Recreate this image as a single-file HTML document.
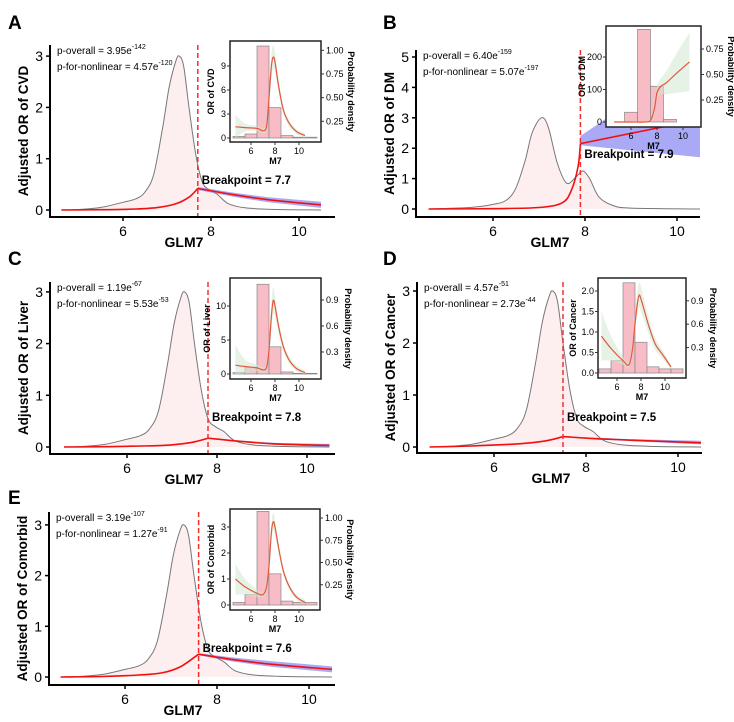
<!DOCTYPE html>
<html><head><meta charset="utf-8"><style>
body{margin:0;background:#fff}
svg{display:block;font-family:"Liberation Sans",Arial,sans-serif}
</style></head><body>
<svg id="fig" width="734" height="722" viewBox="0 0 734 722" xmlns="http://www.w3.org/2000/svg"></svg>
<script>
// ---------- data ----------
const densX = [4.6,5,5.5,6,6.3,6.5,6.7,6.9,7.05,7.2,7.28,7.38,7.5,7.65,7.8,7.95,8.15,8.4,8.8,9.5,10.5];
const densY = [0,0.01,0.05,0.15,0.22,0.35,0.7,1.6,2.4,2.9,3.0,2.8,2.0,1.1,0.55,0.4,0.3,0.12,0.04,0.01,0];
const densBX = [4.6,5.5,6,6.3,6.5,6.7,6.85,7.05,7.2,7.4,7.6,7.8,7.95,8.1,8.3,8.6,9,10.5];
const densBY = [0,0.05,0.15,0.3,0.7,1.6,2.5,3.0,2.7,1.5,0.85,1.05,1.25,1.0,0.4,0.12,0.03,0];

const orAX = [4.6,5.5,6.3,6.8,7.2,7.5,7.7,8.5,9.3,10.5];
const orAY = [0,0.005,0.02,0.05,0.12,0.25,0.42,0.3,0.2,0.1];
const orALo = [0,0.005,0.02,0.05,0.12,0.25,0.39,0.26,0.15,0.04];
const orAHi = [0,0.005,0.02,0.05,0.12,0.25,0.45,0.34,0.25,0.16];

const orBX = [4.6,6,7,7.5,7.7,7.85,7.9,10.5];
const orBY = [0,0.01,0.05,0.2,0.6,1.4,2.15,2.95];
const orBLo = [0,0.01,0.05,0.2,0.6,1.4,2.1,1.7];
const orBHi = [0,0.01,0.05,0.2,0.6,1.4,2.4,5.06];

const orCX = [4.6,5.5,6.3,6.8,7.2,7.5,7.8,8.5,9.3,10.5];
const orCY = [0,0.005,0.02,0.03,0.06,0.1,0.17,0.11,0.06,0.03];
const orCLo = [0,0.005,0.02,0.03,0.06,0.1,0.16,0.1,0.04,0.0];
const orCHi = [0,0.005,0.02,0.03,0.06,0.1,0.18,0.125,0.08,0.06];

const orDX = [4.6,5.5,6.3,6.8,7.2,7.5,8.2,9,10.5];
const orDY = [0,0.02,0.05,0.08,0.13,0.2,0.16,0.13,0.08];
const orDLo = [0,0.02,0.05,0.08,0.13,0.19,0.15,0.11,0.05];
const orDHi = [0,0.02,0.05,0.08,0.13,0.21,0.18,0.15,0.12];

const orEX = [4.6,5.5,6.3,6.8,7.2,7.6,8.3,9.2,10.5];
const orEY = [0,0.01,0.04,0.08,0.2,0.45,0.35,0.25,0.15];
const orELo = [0,0.01,0.04,0.08,0.2,0.43,0.31,0.2,0.09];
const orEHi = [0,0.01,0.04,0.08,0.2,0.47,0.39,0.31,0.21];

const breakpoints = [7.7,7.9,7.8,7.5,7.6];
const pOverall = [["3.95","-142"],["6.40","-159"],["1.19","-67"],["4.57","-51"],["3.19","-107"]];
const pNonlin = [["4.57","-120"],["5.07","-197"],["5.53","-53"],["2.73","-44"],["1.27","-91"]];
const outcomes = ["CVD","DM","Liver","Cancer","Comorbid"];

const histCounts = {
  A:[0.2,0.5,11.5,3.8,0.3,0.1,0.1],
  B:[0,30,285,110,8,0,0],
  C:[0.2,1.0,13.2,4.0,0.3,0.1,0.1],
  D:[0.1,0.3,2.2,0.75,0.15,0.1,0.1],
  E:[0.1,0.4,3.6,1.2,0.15,0.1,0.1]
};
const inX = [4.7,5.5,6.5,7.0,7.3,7.5,7.7,7.85,8,8.3,8.7,9.2,9.8,10.5];
const inAY = [1.4,1.3,1.2,0.9,1.5,5,9,10.1,9.5,6.5,3.5,1.8,0.8,0.3];
const inAW = [1.5,0.5,0.3,0.3,0.5,1,1.5,1.5,1.2,0.8,0.5,0.4,0.3,0.3];
const inCY = [1.3,1.1,0.9,0.6,1.0,3.5,8.5,10.8,10,7,4,2,0.8,0.2];
const inCW = [3,1,0.5,0.4,0.6,1.5,2,2,1.5,1,0.7,0.5,0.4,0.3];
const inDY = [0.9,0.6,0.3,0.2,0.6,1.2,1.7,1.9,1.8,1.5,1.1,0.7,0.45,0.15];
const inDW = [0.6,0.3,0.1,0.08,0.15,0.25,0.3,0.3,0.3,0.25,0.2,0.15,0.1,0.05];
const inEY = [1.0,0.7,0.45,0.4,0.7,1.5,2.8,3.2,3.0,2.2,1.3,0.7,0.3,0.1];
const inEW = [0.6,0.3,0.15,0.1,0.15,0.3,0.35,0.35,0.3,0.2,0.15,0.1,0.1,0.1];
const inBX = [4.7,6,7,7.5,7.8,8,8.3,8.7,9.5,10.5];
const inBY = [0,0,0,5,40,90,110,120,150,185];
const inBW = [2,2,2,5,15,20,25,35,60,90];

// ---------- helpers ----------
const NS="http://www.w3.org/2000/svg";
const svg=document.getElementById('fig');
function el(tag,attrs,parent,text){const e=document.createElementNS(NS,tag);for(const k in attrs)e.setAttribute(k,attrs[k]);if(text!==undefined)e.textContent=text;(parent||svg).appendChild(e);return e;}
function smooth(pts){
  if(pts.length<2)return '';
  let d='M'+pts[0][0].toFixed(1)+','+pts[0][1].toFixed(1);
  for(let i=0;i<pts.length-1;i++){
    const p0=pts[i-1]||pts[i],p1=pts[i],p2=pts[i+1],p3=pts[i+2]||p2;
    const c1=[p1[0]+(p2[0]-p0[0])/6,p1[1]+(p2[1]-p0[1])/6];
    const c2=[p2[0]-(p3[0]-p1[0])/6,p2[1]-(p3[1]-p1[1])/6];
    d+='C'+c1[0].toFixed(1)+','+c1[1].toFixed(1)+' '+c2[0].toFixed(1)+','+c2[1].toFixed(1)+' '+p2[0].toFixed(1)+','+p2[1].toFixed(1);
  }
  return d;
}
function lin(pts){return 'M'+pts.map(p=>p[0].toFixed(1)+','+p[1].toFixed(1)).join('L');}

function panel(c){
  const g=el('g',{},svg);
  
  
  const X=v=>c.x6+(v-6)*c.ux, Y=v=>c.y0-v*c.uy;
  const lab=el('text',{x:c.labX,y:c.labY,'font-size':19,'font-weight':'bold'},g,c.letter);
  
  
  const dp=c.dx.map((x,i)=>[X(x),Y(c.dy[i])]);
  const fill=el('path',{d:smooth(dp)+'L'+X(c.dx[c.dx.length-1])+','+Y(0)+'L'+X(c.dx[0])+','+Y(0)+'Z',fill:'#fdeef0',stroke:'none'},g);
  
  
  const dl=el('path',{d:smooth(dp),fill:'none',stroke:'#777','stroke-width':1},g);
  
  
  const idx=c.ox.map((x,i)=>i).filter(i=>c.ox[i]>=c.bp-0.001);
  const up=idx.map(i=>[X(c.ox[i]),Y(c.ohi[i])]), lo=idx.map(i=>[X(c.ox[i]),Y(c.olo[i])]).reverse();
  const band=el('path',{d:lin(up)+'L'+lo.map(p=>p[0].toFixed(1)+','+p[1].toFixed(1)).join('L')+'Z',fill:'#8c8cf2','fill-opacity':0.75},g);
  
  
  const pre=c.ox.map((x,i)=>i).filter(i=>c.ox[i]<=c.bp+0.001).map(i=>[X(c.ox[i]),Y(c.oy[i])]);
  const post=idx.map(i=>[X(c.ox[i]),Y(c.oy[i])]);
  const orl=el('path',{d:smooth(pre)+' '+smooth(post),fill:'none',stroke:'#f01010','stroke-width':1.6},g);
  
  
  const bl=el('line',{x1:X(c.bp),x2:X(c.bp),y1:c.top,y2:c.axY,stroke:'#f03030','stroke-width':1.5,'stroke-dasharray':'5,3'},g);
  
  
  const bt=el('text',{x:X(c.bp)+4,y:c.bpY,'font-size':11.5,'font-weight':'bold'},g,'Breakpoint = '+c.bp);
  
  
  const ax=el('path',{d:`M${c.axX},${c.top}V${c.axY}H${c.right}`,fill:'none',stroke:'#000','stroke-width':2},g);
  
  
  c.yt.forEach(v=>{
    el('line',{x1:c.axX-4,x2:c.axX,y1:Y(v),y2:Y(v),stroke:'#000','stroke-width':1.5},g);
    const t=el('text',{x:c.axX-7,y:Y(v)+5,'font-size':14,'text-anchor':'end'},g,v);
    
    
  });
  [6,8,10].forEach(v=>{
    el('line',{x1:X(v),x2:X(v),y1:c.axY,y2:c.axY+4,stroke:'#000','stroke-width':1.5},g);
    const t=el('text',{x:X(v),y:c.axY+19,'font-size':14,'text-anchor':'middle'},g,v);
    
    
  });
  const xt=el('text',{x:c.axX+134,y:c.axY+30,'font-size':14,'font-weight':'bold','text-anchor':'middle'},g,'GLM7');
  
  
  const my=(c.top+c.axY)/2;
  const yt=el('text',{x:0,y:0,'font-size':13.5,'font-weight':'bold','text-anchor':'middle',transform:`translate(${c.axX-22},${my}) rotate(-90)`},g,'Adjusted OR of '+c.name);
  
  
  const p1=el('text',{x:c.axX+7,y:c.top+9,'font-size':10},g);
  
  
  el('tspan',{},p1,'p-overall = '+c.po[0]+'e');
  el('tspan',{dy:-5,'font-size':7},p1,c.po[1]);
  const p2=el('text',{x:c.axX+7,y:c.top+25,'font-size':10},g);
  
  
  el('tspan',{},p2,'p-for-nonlinear = '+c.pn[0]+'e');
  el('tspan',{dy:-5,'font-size':7},p2,c.pn[1]);
  inset(c.ins,g,c.name);
}

function inset(s,parent,name){
  const g=el('g',{},parent);
  
  
  const X=v=>s.x6+(v-6)*s.ux, Y=v=>s.y0-v*s.uy;
  const [bx0,by0,bx1,by1]=s.box;
  el('rect',{x:bx0,y:by0,width:bx1-bx0,height:by1-by0,fill:'#fff'},g);
  s.hist.forEach((h,i)=>{
    const x0=X(4.5+i),x1=X(5.5+i);
    const r=el('rect',{x:x0,y:Math.max(Y(h),by0),width:x1-x0,height:Y(0)-Math.max(Y(h),by0),fill:'#f8bcc6',stroke:'#888','stroke-width':0.7},g);
    
    
  });
  const up=s.cx.map((x,i)=>[X(x),Math.max(Y(s.cy[i]+s.cw[i]),by0)]);
  const lo=s.cx.map((x,i)=>[X(x),Math.min(Y(Math.max(s.cy[i]-s.cw[i],0)),by1)]).reverse();
  const b=el('path',{d:smooth(up)+'L'+smooth(lo).slice(1)+'Z',fill:'#cfe8cf','fill-opacity':0.55},g);
  
  
  const cp=s.cx.map((x,i)=>[X(x),Y(s.cy[i])]);
  const cl=el('path',{d:smooth(cp),fill:'none',stroke:'#e2583c','stroke-width':1.2},g);
  
  
  el('rect',{x:bx0,y:by0,width:bx1-bx0,height:by1-by0,fill:'none',stroke:'#222','stroke-width':1.5},g);
  s.lt.forEach(v=>{
    el('line',{x1:bx0-3,x2:bx0,y1:Y(parseFloat(v)),y2:Y(parseFloat(v)),stroke:'#333'},g);
    const t=el('text',{x:bx0-4,y:Y(parseFloat(v))+3,'font-size':9,'text-anchor':'end'},g,v);
    
    
  });
  s.rt.forEach(v=>{
    const y=s.d0-parseFloat(v)*s.du;
    el('line',{x1:bx1,x2:bx1+3,y1:y,y2:y,stroke:'#333'},g);
    const t=el('text',{x:bx1+5,y:y+3,'font-size':9},g,v);
    
    
  });
  [6,8,10].forEach(v=>{
    el('line',{x1:X(v),x2:X(v),y1:by1,y2:by1+3,stroke:'#333'},g);
    const t=el('text',{x:X(v),y:by1+12,'font-size':9,'text-anchor':'middle'},g,v);
    
    
  });
  const m=el('text',{x:(bx0+bx1)/2,y:by1+22,'font-size':9,'font-weight':'bold','text-anchor':'middle'},g,'M7');
  
  
  const ly=el('text',{x:0,y:0,'font-size':9,'font-weight':'bold','text-anchor':'middle',transform:`translate(${bx0-s.lOff},${(by0+by1)/2}) rotate(-90)`},g,'OR of '+name);
  
  
  const ry=el('text',{x:0,y:0,'font-size':9,'font-weight':'bold','text-anchor':'middle',transform:`translate(${bx1+s.rOff},${(by0+by1)/2}) rotate(90)`},g,'Probability density');
  
  
}

panel({letter:'A',name:outcomes[0],labX:8,labY:29,axX:50,axY:217,top:45,right:335,x6:123,ux:44,y0:210,uy:51.3,yt:[0,1,2,3],
  dx:densX,dy:densY,ox:orAX,oy:orAY,olo:orALo,ohi:orAHi,bp:breakpoints[0],bpY:184,po:pOverall[0],pn:pNonlin[0],
  ins:{box:[230,41,321,142],x6:251,ux:12,y0:138,uy:8,hist:histCounts.A,cx:inX,cy:inAY,cw:inAW,lt:['0','3','6','9'],rt:['1.00','0.75','0.50','0.25'],d0:145,du:94.7,lOff:16,rOff:27}});
panel({letter:'B',name:outcomes[1],labX:383,labY:29,axX:416,axY:217,top:50,right:700,x6:493,ux:46,y0:209,uy:30.4,yt:[0,1,2,3,4,5],
  dx:densBX,dy:densBY,ox:orBX,oy:orBY,olo:orBLo,ohi:orBHi,bp:breakpoints[1],bpY:158,po:pOverall[1],pn:pNonlin[1],
  ins:{box:[606,26,701,127],x6:631,ux:13,y0:122,uy:0.325,hist:histCounts.B,cx:inBX,cy:inBY,cw:inBW,lt:['0','100','200'],rt:['0.75','0.50','0.25'],d0:125.5,du:102,lOff:21,rOff:27}});
panel({letter:'C',name:outcomes[2],labX:8,labY:265,axX:50,axY:454,top:282,right:335,x6:127,ux:45,y0:447,uy:51.7,yt:[0,1,2,3],
  dx:densX,dy:densY,ox:orCX,oy:orCY,olo:orCLo,ohi:orCHi,bp:breakpoints[2],bpY:421,po:pOverall[2],pn:pNonlin[2],
  ins:{box:[230,278,321,379],x6:251,ux:12,y0:374,uy:6.8,hist:histCounts.C,cx:inX,cy:inCY,cw:inCW,lt:['0','5','10'],rt:['0.9','0.6','0.3'],d0:378,du:86.7,lOff:20,rOff:24}});
panel({letter:'D',name:outcomes[3],labX:383,labY:265,axX:417,axY:453,top:282,right:702,x6:494,ux:46,y0:447,uy:52,yt:[0,1,2,3],
  dx:densX,dy:densY,ox:orDX,oy:orDY,olo:orDLo,ohi:orDHi,bp:breakpoints[3],bpY:421,po:pOverall[3],pn:pNonlin[3],
  ins:{box:[598,278,686,378],x6:617,ux:12,y0:373,uy:41,hist:histCounts.D,cx:inX,cy:inDY,cw:inDW,lt:['0.0','0.5','1.0','1.5','2.0'],rt:['0.9','0.6','0.3'],d0:371,du:78,lOff:22,rOff:24}});
panel({letter:'E',name:outcomes[4],labX:8,labY:504,axX:49,axY:685,top:512,right:335,x6:125,ux:46,y0:677,uy:50.7,yt:[0,1,2,3],
  dx:densX,dy:densY,ox:orEX,oy:orEY,olo:orELo,ohi:orEHi,bp:breakpoints[4],bpY:652,po:pOverall[4],pn:pNonlin[4],
  ins:{box:[230,509,320,610],x6:251,ux:12,y0:605,uy:26,hist:histCounts.E,cx:inX,cy:inEY,cw:inEW,lt:['0','1','2','3'],rt:['1.00','0.75','0.50','0.25'],d0:607,du:89,lOff:16,rOff:27}});
</script>
</body></html>
